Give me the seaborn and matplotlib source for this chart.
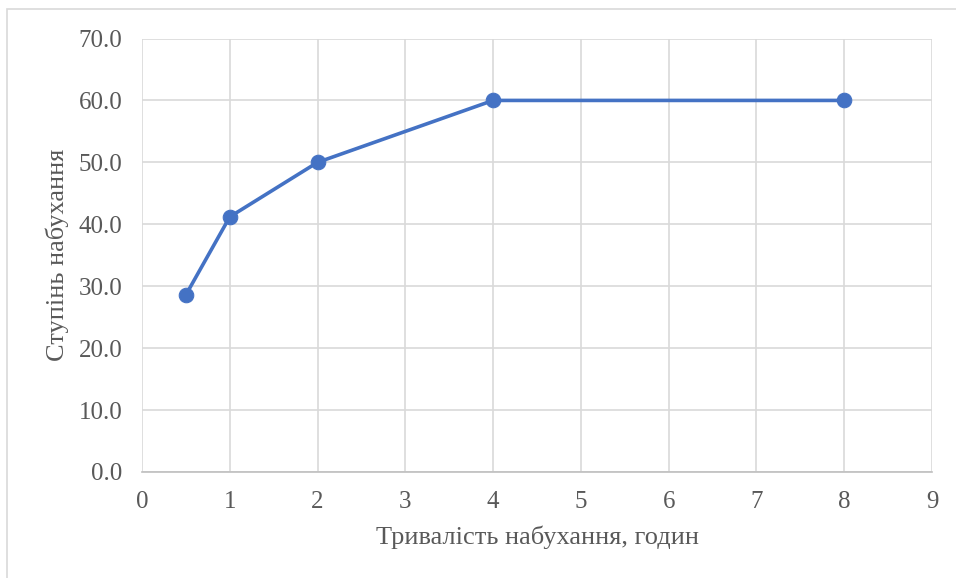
import matplotlib
matplotlib.use("Agg")
import matplotlib.pyplot as plt
import seaborn as sns
import pandas as pd
from matplotlib.patches import Rectangle

# swelling duration (hours) and swelling degree
hours = [0.5, 1, 2, 4, 8]
degree = [28.6, 41.2, 50.0, 60.0, 60.0]
x_ticks = list(range(0, 10))
y_ticks = [0, 10, 20, 30, 40, 50, 60, 70]

df = pd.DataFrame({"hours": hours, "degree": degree})

sns.set_style("white")
plt.rcParams['font.family'] = ['Liberation Serif', 'DejaVu Serif']

fig = plt.figure(figsize=(9.56, 5.78), dpi=100)
ax = fig.add_axes([142/956, 1 - 472/578, (932 - 142)/956, (472 - 38.5)/578])

sns.lineplot(data=df, x="hours", y="degree", ax=ax, color="#4472C4",
             linewidth=2.6, marker="o", markersize=10.5, markeredgecolor="#4472C4")

ax.set_xlim(0, 9)
ax.set_ylim(0, 70)
ax.set_xticks(x_ticks)
ax.set_yticks(y_ticks)
ax.set_yticklabels([f"{v:.1f}" for v in y_ticks])
ax.tick_params(axis="both", length=0, labelsize=18, labelcolor="#595959")
ax.tick_params(axis="y", pad=14)
ax.tick_params(axis="x", pad=14)

ax.grid(True, color="#d9d9d9", linewidth=1.2)
ax.set_axisbelow(True)
for side in ["top", "right", "left"]:
    ax.spines[side].set_visible(False)
ax.spines["bottom"].set_color("#bfbfbf")
ax.spines["bottom"].set_linewidth(1.2)

ax.set_xlabel("Тривалість набухання, годин", fontsize=19, color="#595959", labelpad=9)
ax.set_ylabel("Ступінь набухання", fontsize=19, color="#595959", labelpad=7)

# outer chart border
fig.patches.append(Rectangle((7/956, -0.05), 1.1, 1 - 9/578 + 0.05,
                             transform=fig.transFigure, fill=False,
                             edgecolor="#d9d9d9", linewidth=1.2))

fig.savefig("out.png", dpi=100)
